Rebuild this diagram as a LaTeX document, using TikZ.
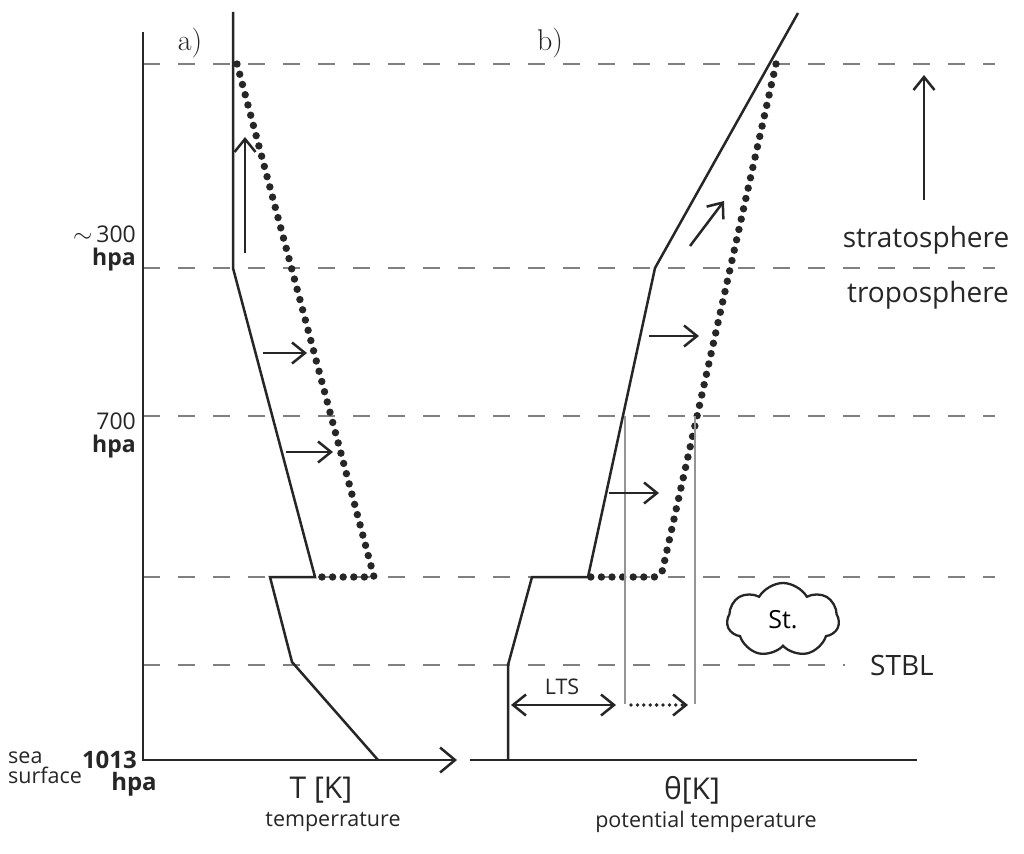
\documentclass[tikz,border=0pt]{standalone}
\usepackage{fontspec}
\newfontfamily\sans{Open Sans}
\usetikzlibrary{arrows.meta,shapes.symbols}
\tikzset{barb/.tip={Straight Barb[length=13pt,width=21pt,line width=2.5pt]}}
\begin{document}
\begin{tikzpicture}[x=1pt,y=-1pt,
  curve/.style={line width=2.5pt, draw=black!85, line join=miter},
  dotline/.style={line width=7.4pt, draw=black!85, line cap=round, dash pattern=on 0pt off 10.6pt},
  smalldots/.style={line width=3.8pt, draw=black!85, line cap=round, dash pattern=on 0pt off 6.4pt},
  level/.style={draw=black!50, line width=1.1pt, dash pattern=on 17pt off 18pt},
  guide/.style={draw=black!42, line width=2.4pt},
  arr/.style={curve, -{barb}},
  lbl/.style={font=\sans\fontsize{28}{32}\selectfont, inner sep=0pt, text=black!85},
  small/.style={font=\sans\fontsize{21.5}{24}\selectfont, inner sep=0pt, text=black!85},
  axl/.style={font=\sans\fontsize{30}{34}\selectfont, inner sep=0pt, text=black!85},
  bnum/.style={font=\sans\bfseries\fontsize{24}{28}\selectfont, inner sep=0pt, text=black!85},
  press/.style={font=\sans\fontsize{23}{22.5}\selectfont, inner sep=0pt, text=black!85, align=right},
  panel/.style={font=\rmfamily\fontsize{30}{34}\selectfont, inner sep=0pt, text=black!85}
]
\useasboundingbox (0,0) rectangle (1024,853);
\fill[white] (0,0) rectangle (1024,853);

% level lines
\foreach \yy/\xe in {64/995,268/995,416/995,577/995,665/845}
  \draw[level] (143,\yy) -- (\xe,\yy);

% axes
\coordinate (ytop) at (143,32);
\coordinate (o) at (143,760);
\coordinate (xend) at (457,760);
\coordinate (b0) at (470,760);
\coordinate (bend) at (917,760);
\draw[curve, -{Straight Barb[length=15pt,width=25pt,line width=2.5pt]}] (ytop) -- (o) -- (xend);
\draw[curve] (b0) -- (bend);

% panel a) temperature profile
\coordinate (a1) at (233,12);
\coordinate (a2) at (233,268);
\coordinate (a3) at (315,577);
\coordinate (a4) at (270,577);
\coordinate (a5) at (292,662);
\coordinate (a6) at (378,760);
\draw[curve] (a1) -- (a2) -- (a3) -- (a4) -- (a5) -- (a6);
\coordinate (d1) at (237,64);
\coordinate (d2) at (374,577);
\coordinate (d3) at (318,577);
\draw[dotline] (d1) -- (d2) -- (d3);

% panel b) potential temperature profile
\coordinate (b1) at (798,13);
\coordinate (b2) at (655,268);
\coordinate (b3) at (588,577);
\coordinate (b4) at (532,577);
\coordinate (b5) at (508,665);
\coordinate (b6) at (508,760);
\draw[curve] (b1) -- (b2) -- (b3) -- (b4) -- (b5) -- (b6);
\coordinate (e1) at (776,64);
\coordinate (e2) at (661,577);
\coordinate (e3) at (590,577);
\draw[dotline, rounded corners=7pt] (e1) -- (e2) -- (e3);

% guides for LTS
\coordinate (g1t) at (625,416);
\coordinate (g1b) at (625,704);
\coordinate (g2t) at (695,416);
\coordinate (g2b) at (695,704);
\draw[guide] (g1t) -- (g1b);
\draw[guide] (g2t) -- (g2b);

% LTS arrows
\coordinate (l1) at (511,705);
\coordinate (l2) at (616,705);
\draw[curve, {barb}-{barb}] (l1) -- (l2);
\node[small] (lts) at (562,687) {LTS};
\coordinate (m1) at (631,705);
\coordinate (m2) at (688,705);
\coordinate (m3) at (687,705);
\draw[smalldots] (m1) -- (m2);
\draw[curve, -{barb}] (m3) -- (m2);

% shift arrows
\coordinate (u1s) at (245,253); \coordinate (u1e) at (245,137);
\draw[arr] (u1s) -- (u1e);
\coordinate (r1s) at (263,353); \coordinate (r1e) at (307,353);
\draw[arr] (r1s) -- (r1e);
\coordinate (r2s) at (286,452); \coordinate (r2e) at (333,452);
\draw[arr] (r2s) -- (r2e);
\coordinate (r3s) at (649,336); \coordinate (r3e) at (699,336);
\draw[arr] (r3s) -- (r3e);
\coordinate (r4s) at (609,493); \coordinate (r4e) at (659,493);
\draw[arr] (r4s) -- (r4e);
\coordinate (q1s) at (690,246); \coordinate (q1e) at (724,201);
\draw[arr] (q1s) -- (q1e);
\coordinate (u2s) at (924,200); \coordinate (u2e) at (924,75);
\draw[arr] (u2s) -- (u2e);

% cloud
\node[cloud, cloud puffs=7, cloud puff arc=120, aspect=1.5, draw=black!85, line width=2.3pt,
      minimum width=112pt, minimum height=74pt, inner sep=0pt, font=\sans\fontsize{25}{28}\selectfont] (cl) at (783,620) {St.};

% labels
\node[panel] (pa) at (190,43) {a)};
\node[panel] (pb) at (550,43) {b)};
\node[press, anchor=base east] (p300) at (136,265) {{\rmfamily$\sim$}\,300\\{\bfseries hpa}};
\node[press, anchor=base east] (p700) at (136,452) {700\\{\bfseries hpa}};
\node[bnum, anchor=base east] (p1013) at (137,768) {1013};
\node[bnum, anchor=base] (h1013) at (134,790) {hpa};
\node[small, align=left, font=\sans\fontsize{21.5}{19.5}\selectfont, anchor=base west] (sea) at (8,783) {sea\\surface};
\node[axl] (tk) at (321,790) {T [K]};
\node[small] (tt) at (333,822) {temperrature};
\node[axl] (thk) at (692,790) {θ[K]};
\node[small] (pt) at (706,822) {potential temperature};
\node[lbl] (strat) at (926,240) {stratosphere};
\node[lbl] (trop) at (928,295) {troposphere};
\node[lbl] (stbl) at (902,665) {STBL};
\end{tikzpicture}
\end{document}
